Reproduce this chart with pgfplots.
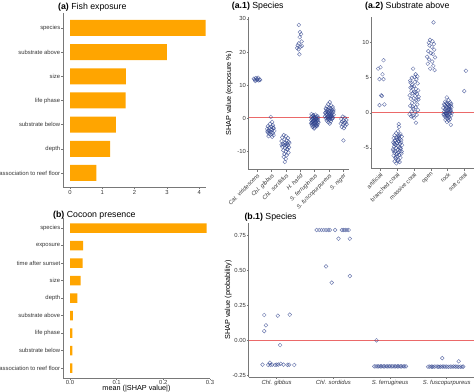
\documentclass[border=0pt]{standalone}
\usepackage{fontspec}
\setmainfont{Liberation Sans}
\usepackage{pgfplots}
\pgfplotsset{compat=1.18}

\definecolor{barorange}{RGB}{255,165,0}
\definecolor{ptblue}{RGB}{45,65,140}
\definecolor{hline}{RGB}{235,105,105}
\definecolor{axgray}{RGB}{120,120,120}
\definecolor{tkgray}{RGB}{55,55,55}

\newcommand\tkfont{\fontsize{5.9}{7}\selectfont}
\newcommand\rtfont{\fontsize{5.8}{6.5}\selectfont}
\newcommand\lbfont{\fontsize{7.3}{8.5}\selectfont}
\newcommand\ttfont{\fontsize{8.8}{10}\selectfont}

\pgfplotsset{
  panel/.style={scale only axis, anchor=south west, axis lines*=left,
    axis line style={draw=axgray, line width=1bp},
    tick style={draw=axgray, line width=0.6bp},
    major tick length=1.8bp, tick align=outside,
    ticklabel style={font=\tkfont, text=tkgray, inner sep=0.8bp},
    label style={font=\lbfont},
    /pgf/number format/assume math mode=true},
  pts/.style={only marks, mark=o, mark size=1.9bp,
    mark options={draw=ptblue, draw opacity=0.7, line width=0.45bp}},
}

\begin{document}
\begin{tikzpicture}
\useasboundingbox (0,0) rectangle (474bp,392bp);

% ---------------- (a) Fish exposure ----------------
\begin{axis}[panel, at={(63bp,204.5bp)}, width=143.3bp, height=174bp,
  xmin=-0.217, xmax=4.22, ymin=0.4, ymax=7.6, xbar, bar width=16bp,
  xtick={0,1,2,3,4}, xticklabels={0,1,2,3,4}, ytick={1,...,7},
  yticklabels={association to reef floor, depth, substrate below, life phase, size, substrate above, species}]
\addplot[fill=barorange, draw=none] table {
x y
0.82 1
1.24 2
1.42 3
1.72 4
1.73 5
3.00 6
4.20 7
};
\end{axis}

% ---------------- (b) Cocoon presence ----------------
\begin{axis}[panel, at={(63bp,13.5bp)}, width=147bp, height=161bp,
  xmin=-0.015, xmax=0.3, ymin=0.4, ymax=9.6, xbar, bar width=9.5bp,
  xtick={0,0.1,0.2,0.3}, xticklabels={0.0,0.1,0.2,0.3}, ytick={1,...,9},
  yticklabels={association to reef floor, substrate below, life phase, substrate above, depth, size, time after sunset, exposure, species},
  xticklabel style={yshift=0.6bp},
  xlabel={mean (|SHAP value|)},
  xlabel style={at={(axis description cs:0.5,0)}, anchor=base, yshift=-11.8bp}]
\addplot[fill=barorange, draw=none] table {
x y
0.005 1
0.005 2
0.005 3
0.006 4
0.016 5
0.023 6
0.027 7
0.028 8
0.293 9
};
\end{axis}

% ---------------- (a.1) Species ----------------
\begin{axis}[panel, at={(248.7bp,222bp)}, width=100.5bp, height=153bp,
  xmin=0.42, xmax=7.4, ymin=-15.76, ymax=30.6,
  xtick={1,...,7},
  xticklabels={\textit{Cal. viridescens},\textit{Chl. gibbus},\textit{Chl. sordidus},\textit{H. harid},\textit{S. ferrugineus},\textit{S. fuscopurpureus},\textit{S. niger}},
  xticklabel style={font=\rtfont, rotate=45, anchor=north east},
  ytick={-10,0,10,20,30}, yticklabels={-10,0,10,20,30},
  ylabel={SHAP value (exposure \%)},
  ylabel style={at={(axis description cs:-0.193,0.5)}, anchor=center}]
\addplot[pts] table {
x y
0.78 11.9
0.85 11.6
0.92 12.1
0.98 11.5
1.03 11.8
1.08 12.2
1.12 11.4
1.18 11.7
0.88 11.2
1.22 11.5
1.95 0.3
2.05 -1.2
1.90 -1.8
2.10 -2.2
1.75 -2.5
2.00 -2.7
1.85 -3.0
2.15 -3.1
1.70 -3.3
1.95 -3.5
2.05 -3.6
1.80 -3.8
2.20 -3.9
1.90 -4.1
2.00 -4.3
1.75 -4.4
2.10 -4.6
1.85 -4.8
1.95 -5.0
2.15 -5.2
1.80 -5.5
2.05 -5.7
1.72 -4.0
2.12 -2.9
2.85 -5.2
3.00 -5.5
2.75 -5.9
3.15 -6.1
2.90 -6.5
3.05 -6.8
2.70 -7.0
3.20 -7.2
2.95 -7.5
3.10 -7.7
2.80 -7.9
3.00 -8.0
3.15 -8.2
2.88 -8.3
3.05 -8.5
2.75 -8.7
3.22 -8.9
2.95 -9.1
3.10 -9.4
2.82 -9.8
3.00 -10.2
3.18 -10.5
2.90 -10.9
3.05 -11.3
2.85 -11.8
3.00 -12.4
2.93 -13.3
3.12 -9.6
2.70 -8.1
3.25 -7.6
3.90 28.2
3.98 26.0
4.06 25.4
3.96 24.5
4.10 23.2
3.90 22.6
3.83 22.0
4.02 21.6
3.78 21.2
4.12 21.8
3.88 20.8
3.94 19.3
4.78 1.2
5.05 1.0
4.92 0.8
5.20 0.6
4.85 0.5
5.12 0.4
4.98 0.3
4.75 0.2
5.25 0.1
5.02 0.0
4.88 -0.1
5.15 -0.2
4.80 -0.3
5.08 -0.4
4.95 -0.5
5.22 -0.6
4.77 -0.7
5.00 -0.8
5.18 -0.9
4.90 -1.0
5.10 -1.1
4.83 -1.2
5.05 -1.3
5.26 -1.4
4.95 -1.5
4.76 -1.6
5.14 -1.7
4.88 -1.8
5.02 -1.9
5.20 -2.0
4.80 -2.1
5.08 -2.2
4.93 -2.4
5.16 -2.5
4.85 -2.7
5.00 -2.9
4.97 -3.2
4.90 0.9
5.10 -0.3
4.82 -1.5
5.03 -0.6
5.24 -1.1
4.96 0.2
5.12 -2.3
4.87 -0.9
6.05 4.8
5.95 4.2
6.15 3.8
5.85 3.5
6.25 3.3
6.00 3.1
5.78 2.9
6.10 2.8
6.30 2.6
5.90 2.5
6.20 2.3
6.02 2.2
5.80 2.0
6.12 1.9
5.92 1.8
6.28 1.7
5.75 1.5
6.06 1.4
6.18 1.3
5.88 1.2
6.00 1.1
6.32 1.0
5.82 0.9
6.10 0.8
5.95 0.7
6.22 0.6
5.72 0.5
6.04 0.4
6.15 0.3
5.86 0.2
6.26 0.1
5.98 0.0
5.78 -0.1
6.08 -0.2
6.20 -0.3
5.90 -0.4
6.02 -0.6
5.84 -0.8
6.12 -1.0
5.96 -1.3
6.05 -1.7
6.30 2.1
5.74 1.6
6.16 0.9
5.92 0.5
6.24 -0.1
6.00 1.7
5.80 2.7
6.10 3.0
5.94 -0.2
6.95 0.4
7.10 0.1
6.85 -0.3
7.20 -0.6
7.00 -0.8
6.90 -1.1
7.15 -1.3
7.05 -1.5
6.82 -1.7
7.22 -1.9
6.98 -2.1
7.12 -2.4
6.88 -2.7
7.03 -3.1
7.00 -6.8
};
\addplot[hline, line width=1bp] coordinates {(0.42,0) (7.4,0)};
\end{axis}

% ---------------- (a.2) Substrate above ----------------
\begin{axis}[panel, at={(371.7bp,223bp)}, width=102.2bp, height=152bp,
  xmin=0.5, xmax=6.55, ymin=-8.0, ymax=13.66,
  xtick={1,...,6},
  xticklabels={artificial,branched coral,massive coral,open,rock,soft coral},
  xticklabel style={font=\rtfont, rotate=45, anchor=north east},
  ytick={-5,0,5,10}, yticklabels={-5,0,5,10}]
\addplot[pts] table {
x y
0.88 6.3
1.02 6.5
1.20 7.5
1.14 5.5
0.96 4.8
1.20 4.8
1.06 2.5
1.10 2.4
0.96 1.1
1.25 1.2
2.10 -1.6
2.12 -2.0
2.05 -2.6
1.95 -2.9
2.20 -3.0
1.85 -3.2
2.08 -3.3
2.28 -3.4
1.98 -3.5
1.80 -3.6
2.15 -3.7
2.02 -3.8
2.25 -3.9
1.90 -4.0
2.10 -4.1
1.78 -4.2
2.00 -4.3
2.18 -4.4
1.88 -4.5
2.30 -4.6
2.05 -4.7
1.82 -4.8
2.13 -4.9
1.95 -5.0
2.22 -5.1
1.76 -5.2
2.03 -5.3
2.16 -5.4
1.90 -5.5
2.08 -5.6
1.84 -5.7
2.26 -5.8
1.98 -5.9
2.12 -6.0
1.80 -6.1
2.02 -6.2
2.20 -6.4
1.92 -6.5
2.06 -6.7
1.86 -6.9
2.15 -7.0
1.96 -7.2
2.24 -4.2
1.87 -3.9
2.10 -3.5
1.93 -4.6
2.18 -5.0
2.00 -5.8
1.83 -4.4
2.27 -5.5
2.07 -4.0
1.91 -6.3
2.14 -3.2
2.04 -6.9
1.79 -5.4
2.95 6.3
3.10 5.5
3.20 5.2
2.88 5.0
3.15 4.8
2.78 4.6
3.05 4.4
3.22 4.2
2.90 4.0
3.00 3.8
2.80 3.6
3.12 3.4
3.25 3.2
2.85 3.1
3.02 3.0
2.92 2.8
3.18 2.7
2.75 2.5
3.08 2.4
3.28 2.3
2.98 2.1
2.82 2.0
3.14 1.8
3.04 1.6
2.90 1.4
3.20 1.2
2.78 1.0
3.10 0.8
2.96 0.6
3.24 0.4
2.86 0.2
3.06 0.1
2.74 -0.2
3.16 -0.3
2.94 -0.4
2.84 -0.5
3.00 -0.7
3.12 -1.4
2.88 3.7
3.08 2.9
3.26 1.9
2.80 4.3
3.03 5.1
2.93 0.9
4.16 12.9
3.95 10.4
4.10 10.2
3.88 10.0
4.18 9.8
3.92 9.6
4.05 9.4
4.20 9.0
3.85 8.8
4.00 8.5
4.12 8.4
3.78 8.0
4.25 7.9
3.90 7.6
4.08 7.3
3.82 7.0
4.15 6.7
3.96 6.3
4.22 6.1
4.95 2.2
5.05 1.8
4.85 1.6
5.15 1.5
4.92 1.4
5.20 1.3
4.78 1.2
5.00 1.1
5.10 1.0
4.88 0.9
5.22 0.8
4.96 0.8
4.74 0.7
5.06 0.6
5.16 0.5
4.84 0.5
5.02 0.4
4.90 0.3
5.18 0.3
4.80 0.2
5.08 0.1
4.98 0.0
5.24 0.0
4.86 -0.1
5.12 -0.1
4.76 -0.2
5.04 -0.3
4.94 -0.4
5.20 -0.4
4.82 -0.5
5.10 -0.6
4.90 -0.7
5.00 -0.8
5.14 -0.9
4.86 -1.0
5.06 -1.1
4.96 -1.3
5.18 -1.7
4.92 0.6
5.08 0.9
4.80 -0.3
5.14 0.2
4.98 1.3
5.02 -0.5
4.88 0.0
5.20 1.0
4.84 1.1
5.10 0.4
4.94 -0.2
6.08 6.0
5.98 3.1
};
\addplot[hline, line width=1bp] coordinates {(0.5,0) (6.55,0)};
\end{axis}

% ---------------- (b.1) Species ----------------
\begin{axis}[panel, at={(248.7bp,15bp)}, width=225.3bp, height=154bp,
  xmin=0.506, xmax=4.48, ymin=-0.264, ymax=0.836,
  xtick={1,...,4},
  xticklabels={\textit{Chl. gibbus},\textit{Chl. sordidus},\textit{S. ferrugineus},\textit{S. fuscopurpureus}},
  ytick={-0.25,0,0.25,0.5,0.75}, yticklabels={-0.25,0.00,0.25,0.50,0.75},
  ylabel={SHAP value (probability)},
  ylabel style={at={(axis description cs:-0.0905,0.5)}, anchor=center}]
\addplot[pts] table {
x y
0.78 0.179
1.02 0.174
1.23 0.181
0.81 0.105
0.78 0.064
1.06 -0.036
0.75 -0.176
0.85 -0.178
0.88 -0.162
0.92 -0.176
0.97 -0.178
1.03 -0.175
1.07 -0.170
1.12 -0.176
1.19 -0.177
1.22 -0.176
1.31 -0.178
0.89 -0.178
1.00 -0.176
1.705 0.786
1.75 0.786
1.79 0.786
1.83 0.786
1.87 0.786
1.91 0.786
1.94 0.786
2.03 0.786
2.15 0.786
2.18 0.786
2.21 0.786
2.24 0.786
2.27 0.786
2.09 0.724
2.29 0.724
1.87 0.526
1.97 0.410
2.29 0.457
2.76 -0.002
2.72 -0.188
2.75 -0.188
2.78 -0.188
2.80 -0.188
2.83 -0.188
2.85 -0.188
2.88 -0.188
2.90 -0.188
2.93 -0.188
2.95 -0.188
2.98 -0.188
3.00 -0.188
3.03 -0.188
3.05 -0.188
3.08 -0.188
3.10 -0.188
3.13 -0.188
3.15 -0.188
3.18 -0.188
3.20 -0.188
3.23 -0.188
3.25 -0.188
3.28 -0.188
3.92 -0.129
4.21 -0.152
3.67 -0.190
3.70 -0.190
3.73 -0.190
3.75 -0.191
3.78 -0.190
3.81 -0.189
3.84 -0.190
3.86 -0.191
3.89 -0.190
3.92 -0.190
3.95 -0.189
3.97 -0.190
4.00 -0.190
4.03 -0.191
4.06 -0.190
4.09 -0.190
4.12 -0.189
4.15 -0.190
4.18 -0.190
4.21 -0.191
4.24 -0.190
4.27 -0.190
4.29 -0.190
};
\addplot[hline, line width=1bp] coordinates {(0.506,0) (4.48,0)};
\end{axis}

% ---------------- titles ----------------
\node[anchor=base west, font=\ttfont, inner sep=0] at (58bp,382.5bp) {\textbf{(a)} Fish exposure};
\node[anchor=base west, font=\ttfont, inner sep=0] at (53bp,174.3bp) {\textbf{(b)} Cocoon presence};
\node[anchor=base west, font=\ttfont, inner sep=0] at (231.7bp,383bp) {\textbf{(a.1)} Species};
\node[anchor=base west, font=\ttfont, inner sep=0] at (365bp,383bp) {\textbf{(a.2)} Substrate above};
\node[anchor=base west, font=\ttfont, inner sep=0] at (244.3bp,172.7bp) {\textbf{(b.1)} Species};
\end{tikzpicture}
\end{document}
